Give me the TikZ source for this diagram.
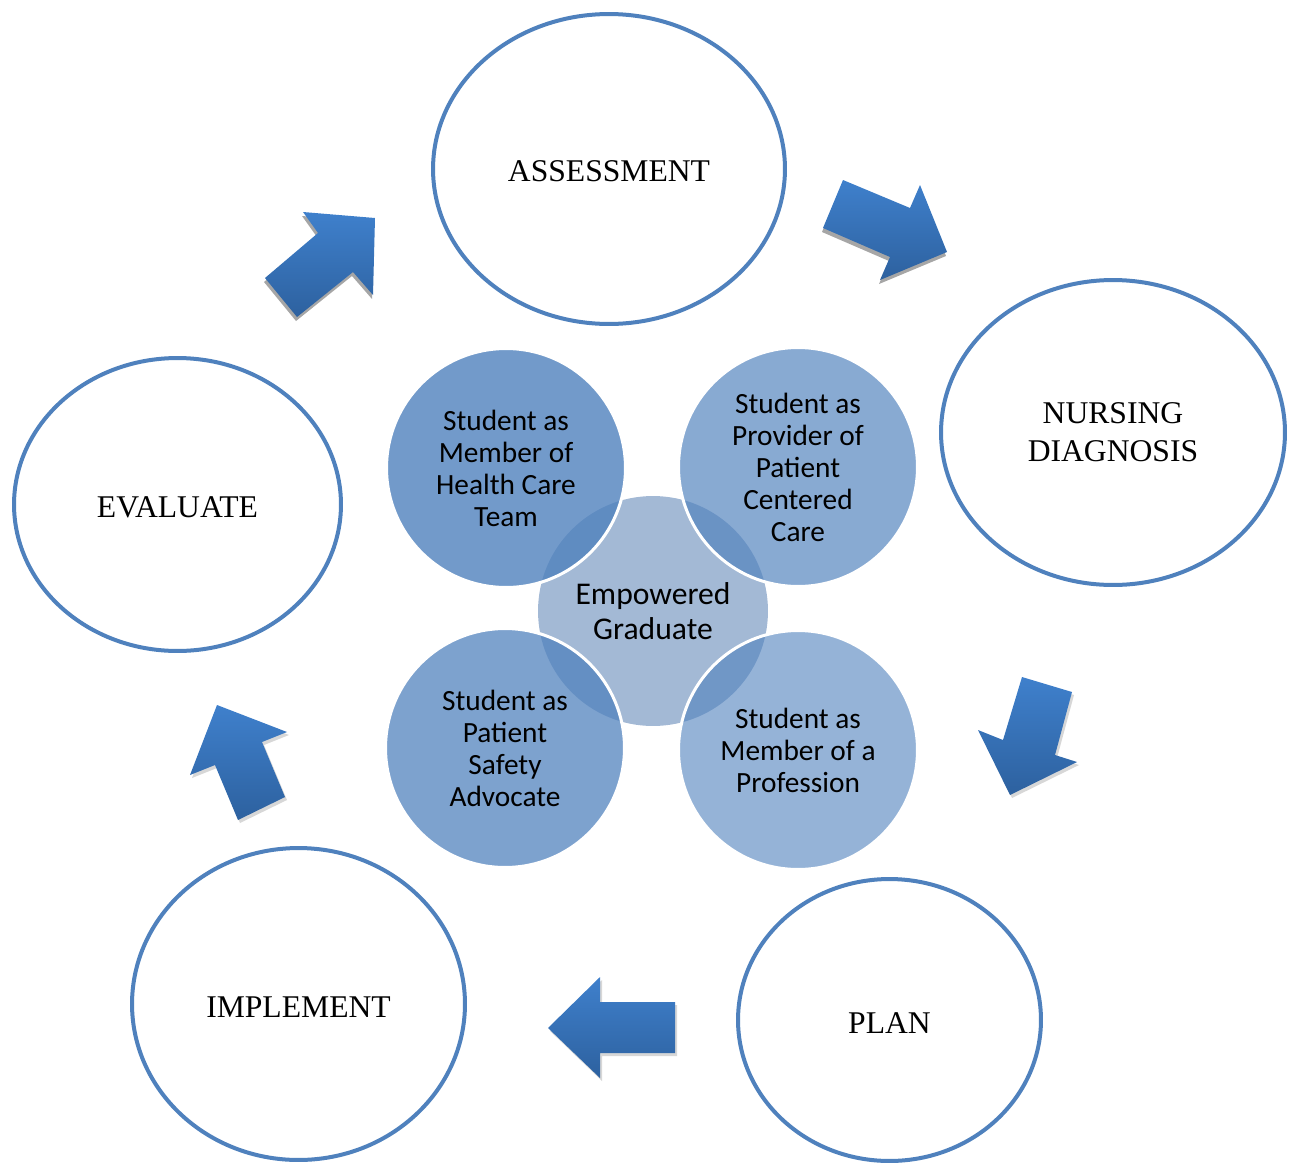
\documentclass[tikz,border=0pt]{standalone}
\usepackage{fontspec}
\setmainfont{Liberation Serif}
\newfontfamily\calibri{Carlito}
\usetikzlibrary{shapes.geometric}
\definecolor{ringblue}{HTML}{4F81BD}
\definecolor{accent}{HTML}{4F81BD}
\definecolor{centerblue}{HTML}{A3B9D5}
\definecolor{arrtop}{HTML}{3F80CC}
\definecolor{arrbot}{HTML}{2D619F}
\definecolor{shadowgray}{HTML}{A6A6A6}
\begin{document}
\begin{tikzpicture}[x=0.02cm,y=-0.02cm,
  stage/.style={ellipse, draw=ringblue, line width=0.08cm, fill=white, inner sep=0pt,
    align=center, font=\fontsize{18}{21.6}\selectfont},
  oneline/.style={text height=14.8pt},
  role/.style={circle, minimum size=4.78cm, inner sep=0pt, fill=accent, draw=white,
    line width=0.06cm, draw opacity=1, text opacity=1, align=center,
    font=\calibri\fontsize{16.7}{18.2}\selectfont},
  hub/.style={circle, minimum size=4.6cm, inner sep=0pt, fill=centerblue, align=center,
    font=\calibri\fontsize{18}{20}\selectfont},
  blockarrow/.style={top color=arrtop, bottom color=arrbot},
  arrowshadow/.style={fill=shadowgray},
  softshadow/.style={fill=shadowgray, fill opacity=0.45}
]
\useasboundingbox (0,0) rectangle (1291,1163);

% outer process stages
\node[stage, oneline, minimum width=7.04cm, minimum height=6.2cm] (assess) at (609,169) {ASSESSMENT};
\node[stage, minimum width=6.88cm, minimum height=6.1cm] (diag) at (1113,432.5) {NURSING\\DIAGNOSIS};
\node[stage, oneline, minimum width=6.54cm, minimum height=5.86cm] (eval) at (177.5,504.5) {EVALUATE};
\node[stage, oneline, minimum width=6.66cm, minimum height=6.24cm] (impl) at (298.5,1004) {IMPLEMENT};
\node[stage, oneline, minimum width=6.06cm, minimum height=5.64cm] (plan) at (889.5,1020) {PLAN};

% central venn
\node[hub] (hub) at (653,611) {Empowered\\Graduate};
\node[role, fill opacity=0.8] (team) at (506,468) {Student as\\Member of\\Health Care\\Team};
\node[role, fill opacity=0.68] (care) at (798,467) {Student as\\Provider of\\Patient\\Centered\\Care};
\node[role, fill opacity=0.74] (safety) at (505,748) {Student as\\Patient\\Safety\\Advocate};
\node[role, fill opacity=0.6] (prof) at (798,750) {Student as\\Member of a\\Profession};

% block arrows: shadows
\begin{scope}[shift={(-1,4)}]
\fill[arrowshadow] (843,180) -- (910,208) -- (920,185) -- (947,252) -- (880,280) -- (890,257) -- (823,228) -- cycle;
\fill[arrowshadow] (265,278) -- (318,233) -- (303,212) -- (375,218) -- (373,295) -- (353,272) -- (297,317) -- cycle;
\end{scope}
\begin{scope}[shift={(2,3)}]
\fill[softshadow] (1022,677) -- (1003,740) -- (978,730) -- (1010,795) -- (1077,762) -- (1055,755) -- (1072,692) -- cycle;
\fill[softshadow] (675,1002) -- (600,1002) -- (600,977) -- (548,1028) -- (600,1078) -- (600,1053) -- (675,1053) -- cycle;
\fill[softshadow] (238,820) -- (215,765) -- (190,775) -- (217,705) -- (287,732) -- (262,742) -- (285,797) -- cycle;
\end{scope}

% block arrows
\shade[blockarrow] (843,180) -- (910,208) -- (920,185) -- (947,252) -- (880,280) -- (890,257) -- (823,228) -- cycle;
\shade[blockarrow] (1022,677) -- (1003,740) -- (978,730) -- (1010,795) -- (1077,762) -- (1055,755) -- (1072,692) -- cycle;
\shade[blockarrow] (675,1002) -- (600,1002) -- (600,977) -- (548,1028) -- (600,1078) -- (600,1053) -- (675,1053) -- cycle;
\shade[blockarrow] (238,820) -- (215,765) -- (190,775) -- (217,705) -- (287,732) -- (262,742) -- (285,797) -- cycle;
\shade[blockarrow] (265,278) -- (318,233) -- (303,212) -- (375,218) -- (373,295) -- (353,272) -- (297,317) -- cycle;
\end{tikzpicture}
\end{document}
